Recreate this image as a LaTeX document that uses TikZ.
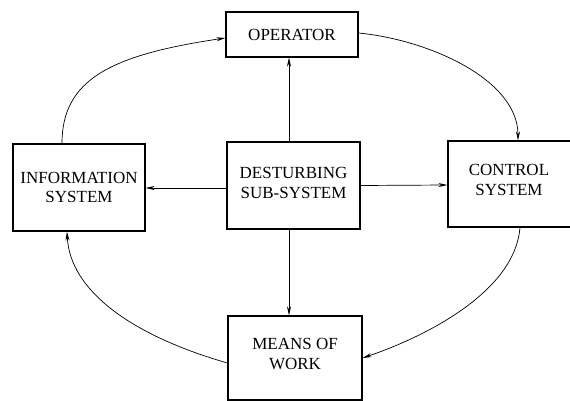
\documentclass[tikz,border=0pt]{standalone}
\usepackage{fontspec}
\setmainfont{Liberation Serif}
\usetikzlibrary{arrows.meta}
\begin{document}
\begin{tikzpicture}[x=1pt,y=-1pt,
  box/.style={draw,line width=1.2pt,inner sep=0pt},
  txt/.style={align=center,inner sep=0pt,font=\fontsize{17}{19.5}\selectfont},
  arr/.style={line width=0.7pt,-{Stealth[length=9pt,width=4pt]}}]
\useasboundingbox (0,0) rectangle (570,401);
\clip (0,0) rectangle (570,401);
\node[box,minimum width=132pt,minimum height=45pt] (op) at (292,34.5) {};
\node[txt] (opt) at (op.center) {OPERATOR};
\node[box,minimum width=132pt,minimum height=87pt] (info) at (79,187.5) {};
\node[txt] (infot) at (info.center) {INFORMATION\\SYSTEM};
\node[box,minimum width=133pt,minimum height=87pt] (des) at (293.5,185.5) {};
\node[txt] (dest) at ([yshift=2.5pt]des.center) {DESTURBING\\SUB-SYSTEM};
\node[box,minimum width=127pt,minimum height=86pt] (ctl) at (511.5,184) {};
\node[txt] (ctlt) at ([xshift=-2.5pt,yshift=4pt]ctl.center) {CONTROL\\SYSTEM};
\node[box,minimum width=134pt,minimum height=84pt] (mw) at (295,358) {};
\node[txt] (mwt) at ([yshift=4pt]mw.center) {MEANS OF\\WORK};
% straight connectors
\draw[arr] ([xshift=-4.5pt]des.north) -- ([xshift=-3pt]op.south);
\draw[arr] ([yshift=-2.5pt]des.west) -- ([yshift=-0.5pt]info.east);
\draw[arr] (des.east) -- ([yshift=-1pt]ctl.west);
\draw[arr] ([xshift=-4.5pt]des.south) -- ([xshift=-6pt]mw.north);
% curved connectors
\draw[arr] ([xshift=-17pt]info.north) .. controls (62,80) and (110,55) .. ([yshift=-3.5pt]op.west);
\draw[arr] ([yshift=1.5pt]op.east) .. controls (430,40) and (518,80) .. ([xshift=6.5pt]ctl.north);
\draw[arr] ([xshift=8.5pt]ctl.south) .. controls (515,290) and (430,335) .. (mw.east);
\draw[arr] ([yshift=-5pt]mw.west) .. controls (130,335) and (70,290) .. ([xshift=-12pt]info.south);
\end{tikzpicture}
\end{document}
